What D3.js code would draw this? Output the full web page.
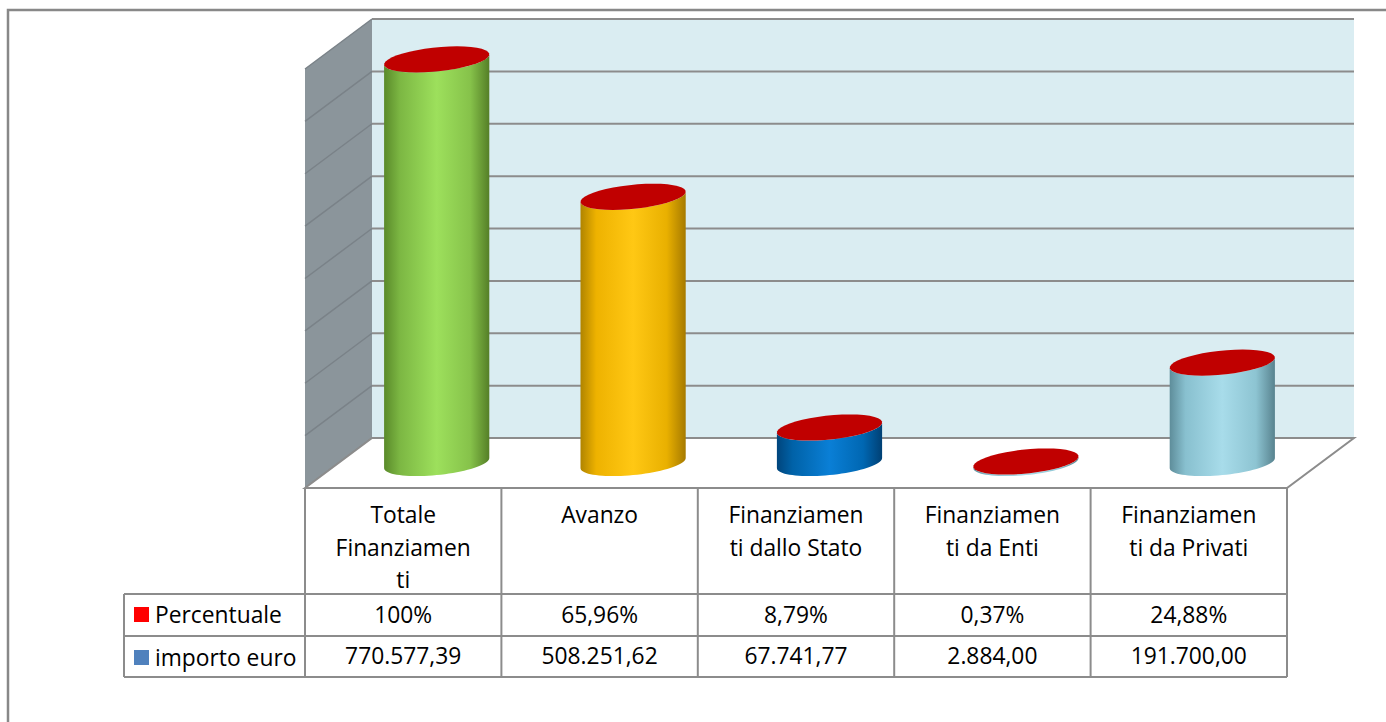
<!doctype html>
<html>
<head>
<script src="https://cdn.jsdelivr.net/npm/d3@7"></script>
<style>
  body { margin: 0; background: #fff; }
  text { font-family: "Open Sans", sans-serif; fill: #000; }
</style>
</head>
<body>
<div id="chart"></div>
<script>
// data
var categories = ["Totale Finanziamenti", "Avanzo", "Finanziamenti dallo Stato", "Finanziamenti da Enti", "Finanziamenti da Privati"];
var categoryLines = [["Totale", "Finanziamen", "ti"], ["Avanzo"], ["Finanziamen", "ti dallo Stato"], ["Finanziamen", "ti da Enti"], ["Finanziamen", "ti da Privati"]];
var importo = [770577.39, 508251.62, 67741.77, 2884.00, 191700.00];
var percentuale = [1, 0.6596, 0.0879, 0.0037, 0.2488];
var seriesNames = ["Percentuale", "importo euro"];
var seriesColors = ["#ff0000", "#4f81bd"];
var barColors = ["green", "orange", "blue", "sky"];
var yTicks = [0, 100000, 200000, 300000, 400000, 500000, 600000, 700000, 800000];

var width = 1386, height = 722;
// 3d box: front floor edge, depth offset
var floorY = 488, plotLeft = 305, plotRight = 1287, depthX = 67, depthY = 50;
var legendLeft = 124;
var rowY = [488, 594, 636, 677];

var svg = d3.select("#chart").append("svg")
  .attr("width", width).attr("height", height);

var it = d3.formatLocale({decimal: ",", thousands: ".", grouping: [3], currency: ["", "€"]});
var fmtEuro = it.format(",.2f");
var fmtPct = function(v) { return v === 1 ? "100%" : it.format(".2f")(v * 100) + "%"; };

var x = d3.scaleBand().domain(categories).range([plotLeft, plotRight]);
var y = d3.scaleLinear().domain([0, 800000]).range([floorY - depthY, 19]);

// gradients for the cylinder bodies
var defs = svg.append("defs");
var grads = {
  green: ["#5a8a2a", "#7cb743", "#9de05c", "#86c24a", "#557f27"],
  orange: ["#b08400", "#eeb200", "#ffc814", "#e9b000", "#a67a00"],
  blue: ["#00457c", "#0062a8", "#0a7fd6", "#0067b2", "#004074"],
  sky: ["#5e8d9a", "#88c0cf", "#a8dcea", "#8dc4d2", "#58838f"],
  red: ["#8e0000", "#b40000", "#cc0000", "#b40000", "#880000"]
};
Object.keys(grads).forEach(function(k) {
  var g = defs.append("linearGradient").attr("id", "g-" + k)
    .attr("x1", 0).attr("x2", 1).attr("y1", 0).attr("y2", 0);
  [0, 0.15, 0.5, 0.82, 1].forEach(function(o, i) {
    g.append("stop").attr("offset", o).attr("stop-color", grads[k][i]);
  });
});

// outer frame
svg.append("rect").attr("x", 8).attr("y", 10).attr("width", 1390).attr("height", 730)
  .attr("fill", "none").attr("stroke", "#888").attr("stroke-width", 2.5);

// back wall
var backL = plotLeft + depthX, backR = plotRight + depthX;
svg.append("rect").attr("x", backL).attr("y", y(800000))
  .attr("width", backR - backL).attr("height", y(0) - y(800000))
  .attr("fill", "#daedf2");

// left wall
svg.append("path")
  .attr("d", d3.line()([[plotLeft, y(800000) + depthY], [backL, y(800000)], [backL, y(0)], [plotLeft, floorY]]) + "Z")
  .attr("fill", "#8b959b");

svg.selectAll(".sideGrid").data(yTicks).enter().append("line")
  .attr("x1", plotLeft).attr("x2", backL)
  .attr("y1", function(d) { return y(d) + depthY; })
  .attr("y2", function(d) { return y(d); })
  .attr("stroke", "#7a8288").attr("stroke-width", 1.5);

svg.selectAll(".backGrid").data(yTicks).enter().append("line")
  .attr("x1", backL).attr("x2", backR)
  .attr("y1", function(d) { return y(d); })
  .attr("y2", function(d) { return y(d); })
  .attr("stroke", "#8c8c8c").attr("stroke-width", 2);

// floor
svg.append("path")
  .attr("d", d3.line()([[plotLeft, floorY], [backL, y(0)], [backR, y(0)], [plotRight, floorY]]) + "Z")
  .attr("fill", "#fff").attr("stroke", "#8c8c8c").attr("stroke-width", 2);

// cylinders
var r = 48.5, kx = 0.42, ky = 0.27;
var th0 = Math.atan(kx);
function pt(cx, cy, t) {
  return [cx + r * Math.cos(t) + kx * r * Math.sin(t), cy - ky * r * Math.sin(t)];
}
function arc(cx, cy, a, b) {
  return d3.range(0, 41).map(function(i) { return pt(cx, cy, a + (b - a) * i / 40); });
}
function body(cx, yb, yt) {
  var pts = [pt(cx, yt, th0 + Math.PI)]
    .concat(arc(cx, yb, th0 + Math.PI, th0 + 2 * Math.PI))
    .concat(arc(cx, yt, th0 + 2 * Math.PI, th0 + Math.PI));
  return d3.line()(pts) + "Z";
}
function topCap(cx, cy) {
  return d3.line()(arc(cx, cy, 0, 2 * Math.PI)) + "Z";
}

categories.forEach(function(c, i) {
  var cx = x(c) + x.bandwidth() / 2 + depthX / 2;
  var base = y(0) + depthY / 2;
  var t1 = y(importo[i]) + depthY / 2;
  var t2 = y(importo[i] + percentuale[i]) + depthY / 2;
  var g = svg.append("g");
  if (base - t1 > 0.5) {
    g.append("path").attr("d", body(cx, base, t1)).attr("fill", "url(#g-" + barColors[Math.min(i, 3)] + ")");
  }
  g.append("path").attr("d", body(cx, t1, t2)).attr("fill", "url(#g-red)");
  g.append("path").attr("d", topCap(cx, t2)).attr("fill", "#c00000");
});

// data table
var tbl = svg.append("g").attr("stroke", "#8c8c8c").attr("stroke-width", 2);
rowY.slice(1).forEach(function(yy) {
  tbl.append("line").attr("x1", legendLeft).attr("x2", plotRight).attr("y1", yy).attr("y2", yy);
});
tbl.append("line").attr("x1", legendLeft).attr("x2", legendLeft).attr("y1", rowY[1]).attr("y2", rowY[3]);
var edges = categories.map(function(c) { return x(c); }).concat([plotRight]);
edges.forEach(function(xx) {
  tbl.append("line").attr("x1", xx).attr("x2", xx).attr("y1", rowY[0]).attr("y2", rowY[3]);
});

var fs = 22.8;
categories.forEach(function(c, i) {
  var cx = x(c) + x.bandwidth() / 2;
  var t = svg.append("text").attr("text-anchor", "middle").style("font-size", fs + "px");
  categoryLines[i].forEach(function(l, j) {
    t.append("tspan").attr("x", cx).attr("y", 523 + j * 32.5).text(l);
  });
  svg.append("text").attr("x", cx).attr("y", 623).attr("text-anchor", "middle")
    .style("font-size", fs + "px").text(fmtPct(percentuale[i]));
  svg.append("text").attr("x", cx).attr("y", 664).attr("text-anchor", "middle")
    .style("font-size", fs + "px").text(fmtEuro(importo[i]));
});

// legend keys in the table
seriesNames.forEach(function(s, i) {
  var base = i === 0 ? 622 : 665;
  svg.append("rect").attr("x", 134).attr("y", base - 15).attr("width", 15).attr("height", 15)
    .attr("fill", seriesColors[i]);
  svg.append("text").attr("x", 155).attr("y", base + 1).style("font-size", fs + "px").text(s);
});
</script>
</body>
</html>
